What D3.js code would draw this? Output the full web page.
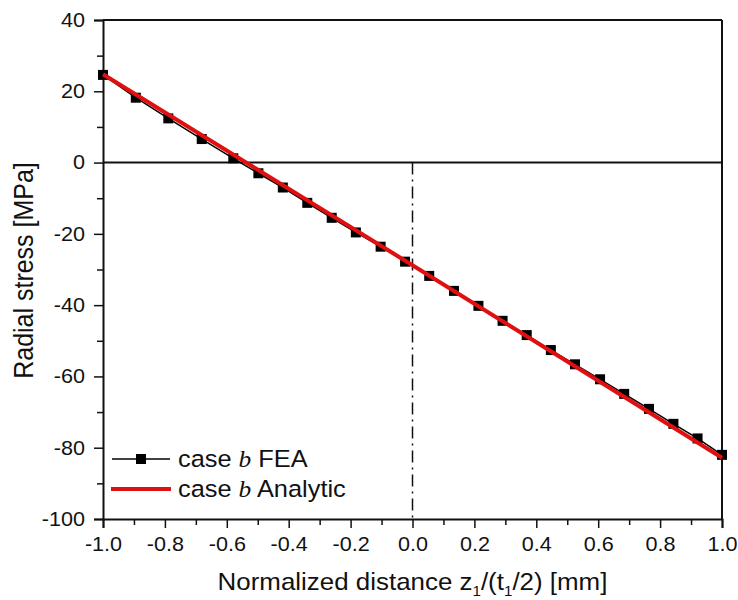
<!DOCTYPE html>
<html>
<head>
<meta charset="utf-8">
<script src="https://cdn.jsdelivr.net/npm/d3@7"></script>
<style>
  body { margin: 0; background: #fff; }
  text { font-family: "Liberation Sans", Arial, sans-serif; fill: #111; }
</style>
</head>
<body>
<svg id="chart"></svg>
<script>
// FEA points
const feaX = [-1.0, -0.894, -0.789, -0.681, -0.579, -0.498, -0.419, -0.340, -0.261, -0.183, -0.103, -0.024,
  0.054, 0.134, 0.213, 0.291, 0.369, 0.447, 0.525, 0.606, 0.684, 0.764, 0.843, 0.921, 1.0];
const feaY = [24.6, 18.2, 12.4, 6.6, 1.2, -3.0, -7.0, -11.3, -15.5, -19.6, -23.6, -27.8,
  -31.8, -36.0, -40.2, -44.4, -48.4, -52.6, -56.6, -60.8, -64.9, -69.1, -73.3, -77.4, -82.0];
// analytic line
const anaX = [-1.0, 0.0, 1.0];
const anaY = [24.8, -28.8, -82.8];

const xTicks = [-1.0, -0.8, -0.6, -0.4, -0.2, 0.0, 0.2, 0.4, 0.6, 0.8, 1.0];
const yTicks = [-100, -80, -60, -40, -20, 0, 20, 40];

const width = 738, height = 600;
const margin = { top: 20, right: 16, bottom: 81, left: 103 };
const innerW = width - margin.left - margin.right;
const innerH = height - margin.top - margin.bottom;
const sx = 1.08; // text looks a little wide in the original

// plain hyphen for negatives, like the original
const locale = d3.formatLocale({ decimal: ".", thousands: ",", grouping: [3], currency: ["", ""], minus: "-" });

const svg = d3.select("#chart").attr("width", width).attr("height", height);
const g = svg.append("g").attr("transform", `translate(${margin.left},${margin.top})`);

const x = d3.scaleLinear().domain([-1, 1]).range([0, innerW]);
const y = d3.scaleLinear().domain([-100, 40]).range([innerH, 0]);

// minor ticks
const xMinor = d3.range(-0.9, 1.0, 0.2);
const yMinor = d3.range(-90, 40, 20);

const xAxis = g.append("g").attr("transform", `translate(0,${innerH})`)
  .call(d3.axisBottom(x).tickValues(xTicks).tickFormat(locale.format(".1f")).tickSize(9).tickPadding(9));
g.append("g").attr("transform", `translate(0,${innerH})`)
  .call(d3.axisBottom(x).tickValues(xMinor).tickFormat("").tickSize(6))
  .select(".domain").remove();

const yAxis = g.append("g")
  .call(d3.axisLeft(y).tickValues(yTicks).tickFormat(locale.format("d")).tickSize(9).tickPadding(9));
g.append("g")
  .call(d3.axisLeft(y).tickValues(yMinor).tickFormat("").tickSize(6))
  .select(".domain").remove();

g.selectAll(".tick line").attr("stroke", "#111").attr("stroke-width", 1.5);
g.selectAll(".domain").attr("stroke", "#111").attr("stroke-width", 2);
g.selectAll(".tick text").style("font-size", "20px").attr("fill", "#222");
xAxis.selectAll(".tick text").attr("transform", `scale(${sx},1)`);
yAxis.selectAll(".tick text").attr("x", -18 / sx).attr("transform", `scale(${sx},1)`);

// frame top & right
g.append("line").attr("x1", 0).attr("x2", innerW).attr("y1", 0).attr("y2", 0)
  .attr("stroke", "#111").attr("stroke-width", 2);
g.append("line").attr("x1", innerW).attr("x2", innerW).attr("y1", 0).attr("y2", innerH)
  .attr("stroke", "#111").attr("stroke-width", 2);

// zero line
g.append("line").attr("x1", 0).attr("x2", innerW).attr("y1", y(0)).attr("y2", y(0))
  .attr("stroke", "#111").attr("stroke-width", 2);
// dash-dot line at x=0
g.append("line").attr("x1", x(0)).attr("x2", x(0)).attr("y1", y(0)).attr("y2", innerH)
  .attr("stroke", "#111").attr("stroke-width", 1.5).attr("stroke-dasharray", "12,5,2,5");

const fea = feaX.map((v, i) => ({ x: v, y: feaY[i] }));
const ana = anaX.map((v, i) => ({ x: v, y: anaY[i] }));
const line = d3.line().x(d => x(d.x)).y(d => y(d.y));

g.append("path").datum(fea).attr("d", line)
  .attr("fill", "none").attr("stroke", "#000").attr("stroke-width", 1.5);
g.selectAll(".marker").data(fea).enter().append("rect")
  .attr("class", "marker")
  .attr("x", d => x(d.x) - 5).attr("y", d => y(d.y) - 5)
  .attr("width", 10).attr("height", 10).attr("fill", "#000");
g.append("path").datum(ana).attr("d", line)
  .attr("fill", "none").attr("stroke", "#e01010").attr("stroke-width", 4);

// legend
const leg = svg.append("g");
leg.append("line").attr("x1", 112).attr("x2", 170).attr("y1", 459).attr("y2", 459)
  .attr("stroke", "#000").attr("stroke-width", 1.5);
leg.append("rect").attr("x", 136).attr("y", 454).attr("width", 10).attr("height", 10).attr("fill", "#000");
leg.append("line").attr("x1", 111).attr("x2", 171).attr("y1", 489).attr("y2", 489)
  .attr("stroke", "#e01010").attr("stroke-width", 4);

function legendText(yPos, label) {
  const t = leg.append("text")
    .attr("transform", `translate(178,${yPos}) scale(${sx},1)`)
    .style("font-size", "23.5px");
  t.append("tspan").text("case ");
  t.append("tspan").text("b").style("font-family", "'Liberation Serif', 'Times New Roman', serif").style("font-style", "italic");
  t.append("tspan").text(" " + label);
}
legendText(467, "FEA");
legendText(497, "Analytic");

// axis titles
const xt = svg.append("text")
  .attr("transform", `translate(${margin.left + innerW / 2},590) scale(${sx},1)`)
  .attr("text-anchor", "middle").style("font-size", "24px");
xt.append("tspan").text("Normalized distance z");
xt.append("tspan").text("1").attr("dy", 6).style("font-size", "14px");
xt.append("tspan").text("/(t").attr("dy", -6);
xt.append("tspan").text("1").attr("dy", 6).style("font-size", "14px");
xt.append("tspan").text("/2) [mm]").attr("dy", -6);

svg.append("text")
  .attr("transform", `translate(33,${margin.top + innerH / 2 + 1}) scale(${sx},1) rotate(-90)`)
  .attr("text-anchor", "middle").style("font-size", "25px")
  .text("Radial stress [MPa]");
</script>
</body>
</html>
